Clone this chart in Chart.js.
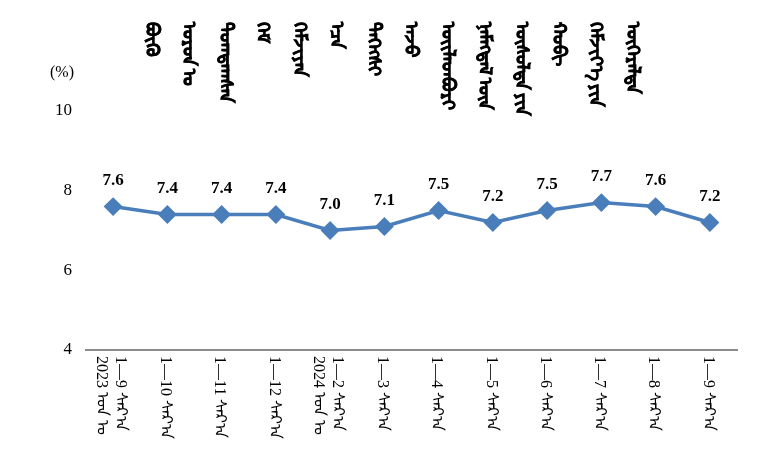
<!DOCTYPE html>
<html>
<head>
<meta charset="utf-8">
<script src="https://cdn.jsdelivr.net/npm/chart.js@4"></script>
<style>
  body { margin: 0; background: #fff; }
  .wrap { position: relative; width: 761px; height: 465px; }
  canvas { position: absolute; left: 0; top: 0; }
  .titulo {
    position: absolute; left: 138px; top: 22px;
    display: flex; align-items: flex-start;
  }
  .titulo span {
    writing-mode: vertical-lr;
    white-space: nowrap;
    width: 37px;
    font-family: "Noto Sans", "DejaVu Sans", serif;
    font-weight: bold;
    font-size: 18px;
    -webkit-text-stroke: 0.6px #000;
    color: #000;
  }
</style>
</head>
<body>
<div class="wrap">
  <canvas id="grafica" width="761" height="465"></canvas>
  <div class="titulo" id="titulo"></div>
</div>
<script>
// ---------- Datos ----------
const tituloPalabras = ['ᠪᠦᠬᠦ', 'ᠣᠷᠣᠨ\u202Fᠤ', 'ᠲᠣᠭᠲᠠᠭᠰᠠᠨ', 'ᠬᠡᠮ', 'ᠬᠡᠮᠵᠢᠶᠡᠨ', 'ᠡᠴᠡ', 'ᠳᠡᠭᠡᠭᠰᠢ',
  'ᠠᠵᠤ', 'ᠦᠢᠯᠡᠳᠪᠦᠷᠢ', 'ᠨᠡᠮᠡᠭᠳᠡᠯ\u202Fᠦᠨ', 'ᠥᠰᠦᠯᠲᠡ\u202Fᠶᠢᠨ', 'ᠬᠤᠪᠢ', 'ᠬᠡᠮᠵᠢᠶ᠎ᠡ\u202Fᠶᠢᠨ', 'ᠥᠭᠡᠷᠡᠯᠲᠡ'];
const anios = ['2023 ᠣᠨ ᠤ', '', '', '', '2024 ᠣᠨ ᠤ', '', '', '', '', '', '', ''];
const meses = ['1—9 ᠰᠠᠷ᠎ᠠ', '1—10 ᠰᠠᠷ᠎ᠠ', '1—11 ᠰᠠᠷ᠎ᠠ', '1—12 ᠰᠠᠷ᠎ᠠ', '1—2 ᠰᠠᠷ᠎ᠠ', '1—3 ᠰᠠᠷ᠎ᠠ',
  '1—4 ᠰᠠᠷ᠎ᠠ', '1—5 ᠰᠠᠷ᠎ᠠ', '1—6 ᠰᠠᠷ᠎ᠠ', '1—7 ᠰᠠᠷ᠎ᠠ', '1—8 ᠰᠠᠷ᠎ᠠ', '1—9 ᠰᠠᠷ᠎ᠠ'];
const valores = [7.6, 7.4, 7.4, 7.4, 7.0, 7.1, 7.5, 7.2, 7.5, 7.7, 7.6, 7.2];
const unidad = '(%)';
const ejeMin = 4, ejeMax = 10, paso = 2;

const azul = '#4A7EBB';
const serif = '"Liberation Serif", "Times New Roman", serif';

// ---------- Título vertical ----------
const titulo = document.getElementById('titulo');
tituloPalabras.forEach(p => {
  const s = document.createElement('span');
  s.textContent = p;
  titulo.appendChild(s);
});

// ---------- Plugin: etiquetas ----------
function textoGirado(ctx, txt, x, y) {
  ctx.save();
  ctx.translate(x, y);
  ctx.rotate(Math.PI / 2);
  ctx.fillText(txt, 0, 0);
  ctx.restore();
}

const etiquetas = {
  id: 'etiquetas',
  afterDatasetsDraw(chart) {
    const ctx = chart.ctx;
    const meta = chart.getDatasetMeta(0);
    const x = chart.scales.x;
    const y = chart.scales.y;

    ctx.save();
    // valores sobre los puntos
    ctx.fillStyle = '#000';
    ctx.font = 'bold 17px ' + serif;
    ctx.textAlign = 'center';
    ctx.textBaseline = 'middle';
    meta.data.forEach((p, i) => {
      ctx.fillText(valores[i].toFixed(1), p.x, p.y - 26);
    });

    // unidad
    ctx.font = '16px ' + serif;
    ctx.fillText(unidad, 62, 73);

    // categorías giradas (sentido horario)
    ctx.font = '16px ' + serif;
    ctx.textAlign = 'left';
    ctx.textBaseline = 'middle';
    const top = y.bottom + 6;
    meses.forEach((m, i) => {
      const cx = x.getPixelForValue(i);
      if (anios[i] !== '') {
        textoGirado(ctx, m, cx + 7, top);
        textoGirado(ctx, anios[i], cx - 12, top);
      } else {
        textoGirado(ctx, m, cx - 2, top);
      }
    });
    ctx.restore();
  }
};

// ---------- Gráfica ----------
const ctx = document.getElementById('grafica').getContext('2d');
new Chart(ctx, {
  type: 'line',
  data: {
    labels: meses,
    datasets: [{
      data: valores,
      borderColor: azul,
      backgroundColor: azul,
      borderWidth: 3.5,
      pointStyle: 'rectRot',
      pointRadius: 7,
      pointBackgroundColor: azul,
      pointBorderColor: azul,
      tension: 0
    }]
  },
  options: {
    responsive: false,
    animation: false,
    layout: { padding: { top: 111, right: 24, left: 0, bottom: 0 } },
    plugins: {
      legend: { display: false },
      tooltip: { enabled: false }
    },
    scales: {
      x: {
        offset: true,
        grid: { display: false },
        border: { display: true, color: '#8C8C8C', width: 2 },
        ticks: { display: false },
        afterFit: s => { s.height = 115; }
      },
      y: {
        min: ejeMin,
        max: ejeMax,
        grid: { display: false },
        border: { display: false },
        ticks: {
          stepSize: paso,
          color: '#000',
          padding: 6,
          font: { family: serif, size: 17 }
        },
        afterFit: s => { s.width = 86; }
      }
    }
  },
  plugins: [etiquetas]
});
</script>
</body>
</html>
